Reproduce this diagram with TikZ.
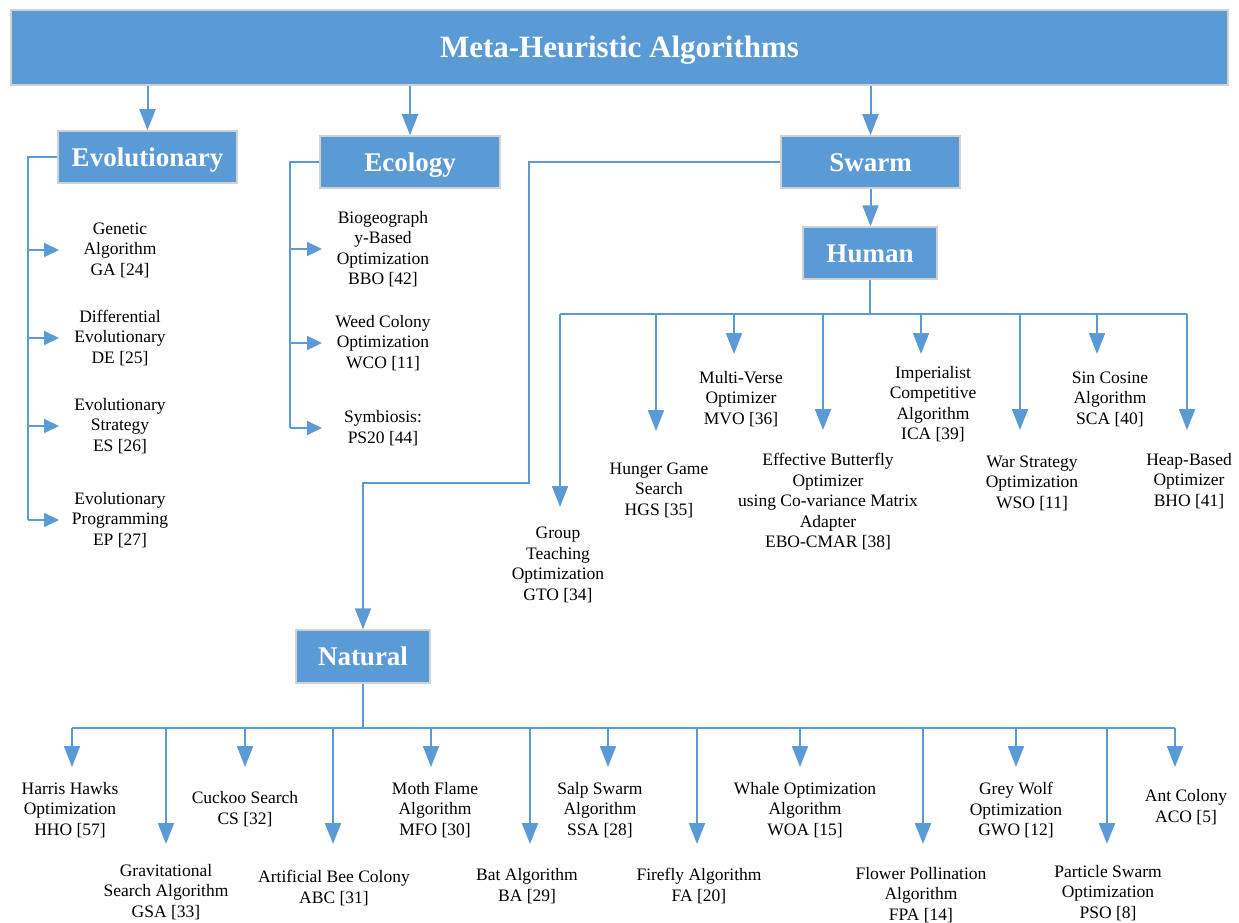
\documentclass[tikz,border=0pt]{standalone}
\usepackage{fontspec}
\setmainfont{Liberation Serif}
\usetikzlibrary{arrows.meta,positioning,shadows}
\definecolor{boxblue}{HTML}{5B9BD5}
\tikzset{
  catbox/.style={fill=boxblue, draw=black!18, line width=1.5pt, text=white,
    font=\fontsize{27}{30}\selectfont\bfseries, minimum height=52pt, inner sep=0pt,
    text height=18pt, text depth=0pt},
  leaf/.style={align=center, font=\fontsize{17.5}{20.5}\selectfont, inner sep=0pt},
  link/.style={boxblue, line width=2pt},
  dtip/.style={link, -{Triangle[length=21pt,width=16pt]}},
  rtip/.style={link, -{Triangle[length=15pt,width=14pt]}},
}
\begin{document}
\begin{tikzpicture}[x=1pt,y=-1pt]
  \useasboundingbox (0,0) rectangle (1239,923);
  % category boxes
  \node[catbox, minimum width=1217pt, minimum height=75pt, text height=20.5pt,
    font=\fontsize{31}{34}\selectfont\bfseries] (meta) at (619.5,47.5) {Meta-Heuristic Algorithms};
  \node[catbox, minimum width=179pt] (evo) at (147.5,157) {Evolutionary};
  \node[catbox, minimum width=180pt] (eco) at (410,162) {Ecology};
  \node[catbox, minimum width=179pt] (swarm) at (870.5,162) {Swarm};
  \node[catbox, minimum width=134pt] (human) at (870,253) {Human};
  \node[catbox, minimum width=134pt, minimum height=53pt] (natural) at (363,656.5) {Natural};

  \draw[dtip] (meta.south -| evo) -- (evo.north);
  \draw[dtip] (meta.south -| eco) -- (eco.north);
  \draw[dtip] (meta.south -| swarm.north) -- (swarm.north);
  \draw[dtip] (swarm.south) -- (swarm.south |- human.north);
  \coordinate (bend) at (529,483);
  \draw[dtip] (swarm.west) -| (bend) -| (natural.north);

  % evolutionary
  \foreach \n/\y/\lab in {ga/250/{Genetic\\Algorithm\\GA [24]},
      de/338/{Differential\\Evolutionary\\DE [25]},
      es/426/{Evolutionary\\Strategy\\ES [26]},
      ep/520/{Evolutionary\\Programming\\EP [27]}}
    \node[leaf] (\n) at (120,\y) {\lab};
  \coordinate (evospine) at (28,157);
  \draw[link] (evo.west) -- (evospine) -- (evospine |- ep);
  \foreach \n in {ga,de,es,ep}
    \draw[rtip] (evospine |- \n) -- ++(31,0);

  % ecology
  \foreach \n/\y/\lab in {bbo/249/{Biogeograph\\y-Based\\Optimization\\BBO [42]},
      wco/343/{Weed Colony\\Optimization\\WCO [11]},
      ps/428/{Symbiosis:\\PS20 [44]}}
    \node[leaf] (\n) at (383,\y) {\lab};
  \coordinate (ecospine) at (290,162);
  \draw[link] (eco.west) -- (ecospine) -- (ecospine |- ps);
  \foreach \n in {bbo,wco,ps}
    \draw[rtip] (ecospine |- \n) -- ++(32,0);

  % human
  \coordinate (hbus) at (0,314);
  \foreach \n/\x/\t/\tx/\ty/\lab in {
      gto/560/507/558/565/{Group\\Teaching\\Optimization\\GTO [34]},
      hgs/656/431/659/490/{Hunger Game\\Search\\HGS [35]},
      mvo/734/354/741/399/{Multi-Verse\\Optimizer\\MVO [36]},
      ebo/823/430/828/502/{Effective Butterfly\\Optimizer\\using Co-variance Matrix\\Adapter\\EBO-CMAR [38]},
      ica/921/354/933/404/{Imperialist\\Competitive\\Algorithm\\ICA [39]},
      wso/1020/430/1032/483/{War Strategy\\Optimization\\WSO [11]},
      sca/1097/354/1110/399/{Sin Cosine\\Algorithm\\SCA [40]},
      bho/1187/430/1189/481/{Heap-Based\\Optimizer\\BHO [41]}} {
    \coordinate (\n-tip) at (\x,\t);
    \node[leaf] (\n) at (\tx,\ty) {\lab};
    \draw[dtip] (hbus -| \n-tip) -- (\n-tip);
  }
  \draw[link] (human.south) -- (human.south |- hbus);
  \draw[link] (hbus -| gto-tip) -- (hbus -| bho-tip);

  % natural
  \coordinate (nbus) at (0,728);
  \foreach \n/\x/\t/\tx/\ty/\lab in {
      hho/72/767/70/810/{Harris Hawks\\Optimization\\HHO [57]},
      gsa/166/844/166/892/{Gravitational\\Search Algorithm\\GSA [33]},
      cs/245/767/245/809/{Cuckoo Search\\CS [32]},
      abc/333/844/334/888/{Artificial Bee Colony\\ABC [31]},
      mfo/431/767/435/810/{Moth Flame\\Algorithm\\MFO [30]},
      ba/530/844/527/886/{Bat Algorithm\\BA [29]},
      ssa/608/767/600/810/{Salp Swarm\\Algorithm\\SSA [28]},
      fa/697/844/699/886/{Firefly Algorithm\\FA [20]},
      woa/800/767/805/810/{Whale Optimization\\Algorithm\\WOA [15]},
      fpa/923/844/921/895/{Flower Pollination\\Algorithm\\FPA [14]},
      gwo/1016/767/1016/810/{Grey Wolf\\Optimization\\GWO [12]},
      pso/1107/844/1108/893/{Particle Swarm\\Optimization\\PSO [8]},
      aco/1175/767/1186/807/{Ant Colony\\ACO [5]}} {
    \coordinate (\n-tip) at (\x,\t);
    \node[leaf] (\n) at (\tx,\ty) {\lab};
    \draw[dtip] (nbus -| \n-tip) -- (\n-tip);
  }
  \draw[link] (natural.south) -- (natural.south |- nbus);
  \draw[link] (nbus -| hho-tip) -- (nbus -| aco-tip);
\end{tikzpicture}
\end{document}
